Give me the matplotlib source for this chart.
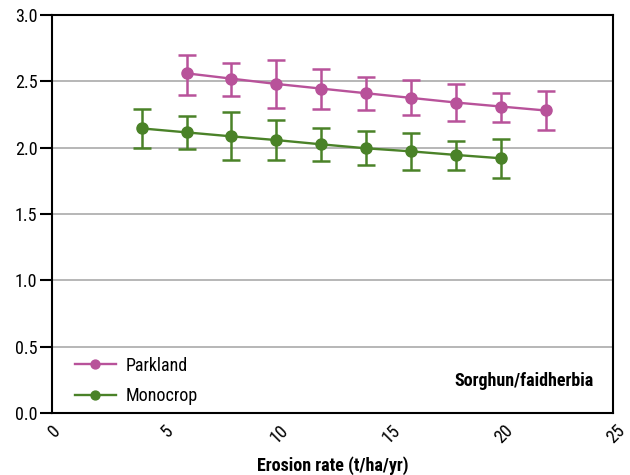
import matplotlib
matplotlib.use("Agg")
import matplotlib.pyplot as plt
from matplotlib.font_manager import findfont, FontProperties
from matplotlib.transforms import ScaledTranslation

# Erosion rate (t/ha/yr) and yields for the two systems
parkland_x = [6, 8, 10, 12, 14, 16, 18, 20, 22]
parkland_y = [2.56, 2.52, 2.48, 2.445, 2.41, 2.375, 2.34, 2.31, 2.28]
parkland_hi = [2.70, 2.64, 2.66, 2.59, 2.535, 2.507, 2.48, 2.415, 2.43]
parkland_lo = [2.40, 2.39, 2.30, 2.29, 2.28, 2.243, 2.203, 2.195, 2.13]

monocrop_x = [4, 6, 8, 10, 12, 14, 16, 18, 20]
monocrop_y = [2.145, 2.115, 2.085, 2.057, 2.025, 1.995, 1.972, 1.945, 1.92]
monocrop_hi = [2.295, 2.238, 2.268, 2.206, 2.15, 2.123, 2.112, 2.052, 2.065]
monocrop_lo = [1.994, 1.987, 1.904, 1.904, 1.899, 1.869, 1.829, 1.829, 1.769]

x_ticks = [0, 5, 10, 15, 20, 25]
y_ticks = [0.0, 0.5, 1.0, 1.5, 2.0, 2.5, 3.0]

PINK = "#B8529A"
GREEN = "#4A8228"


def first_font(names):
    for n in names:
        try:
            findfont(FontProperties(family=n), fallback_to_default=False)
            return n
        except Exception:
            continue
    return "DejaVu Sans"


fam = first_font(["Roboto Condensed", "Liberation Sans Narrow", "Roboto"])
plt.rcParams["font.family"] = [fam, "DejaVu Sans"]
FS = 13

fig = plt.figure(figsize=(6.3, 4.75), dpi=100)
ax = fig.add_axes([0.0825, 0.1305, 0.8905, 0.838])

for xs, ys, hi, lo, col, lab in [
    (parkland_x, parkland_y, parkland_hi, parkland_lo, PINK, "Parkland"),
    (monocrop_x, monocrop_y, monocrop_hi, monocrop_lo, GREEN, "Monocrop"),
]:
    yerr = [[y - l for y, l in zip(ys, lo)], [h - y for y, h in zip(ys, hi)]]
    ax.errorbar(xs, ys, yerr=yerr, color=col, marker="o", markersize=8,
                linewidth=1.7, elinewidth=1.8, capsize=6.5, capthick=1.8,
                label=lab, zorder=3)

ax.set_xlim(0, 25)
ax.set_ylim(0, 3.0)
ax.set_xticks(x_ticks)
ax.set_yticks(y_ticks)
ax.set_yticklabels([f"{v:.1f}" for v in y_ticks])
for v in y_ticks[1:-1]:
    ax.axhline(v, color="#AAAAAA", linewidth=1.2, zorder=1)

for s in ax.spines.values():
    s.set_linewidth(1.5)
    s.set_color("black")
ax.tick_params(axis="y", labelsize=FS, width=1.5, length=8.5, direction="out", pad=2)
ax.tick_params(axis="x", labelsize=FS, length=0, labelrotation=45, pad=6)
shift = ScaledTranslation(3 / 100, 0, fig.dpi_scale_trans)
for t in ax.get_xticklabels():
    t.set_ha("center")
    t.set_va("top")
    t.set_transform(t.get_transform() + shift)

ax.set_xlabel("Erosion rate (t/ha/yr)", fontsize=FS, fontweight="bold", labelpad=7)

handles, labels = ax.get_legend_handles_labels()
handles = [h[0] for h in handles]
ax.legend(handles, labels, loc="lower left", bbox_to_anchor=(0.018, -0.012),
          frameon=False, fontsize=FS, handlelength=2.3, handletextpad=0.5,
          labelspacing=0.7, borderaxespad=0.3, markerscale=0.8)

ax.text(0.965, 0.08, "Sorghun/faidherbia", transform=ax.transAxes,
        ha="right", va="center", fontsize=FS, fontweight="bold")

fig.savefig("out.png", dpi=100)
